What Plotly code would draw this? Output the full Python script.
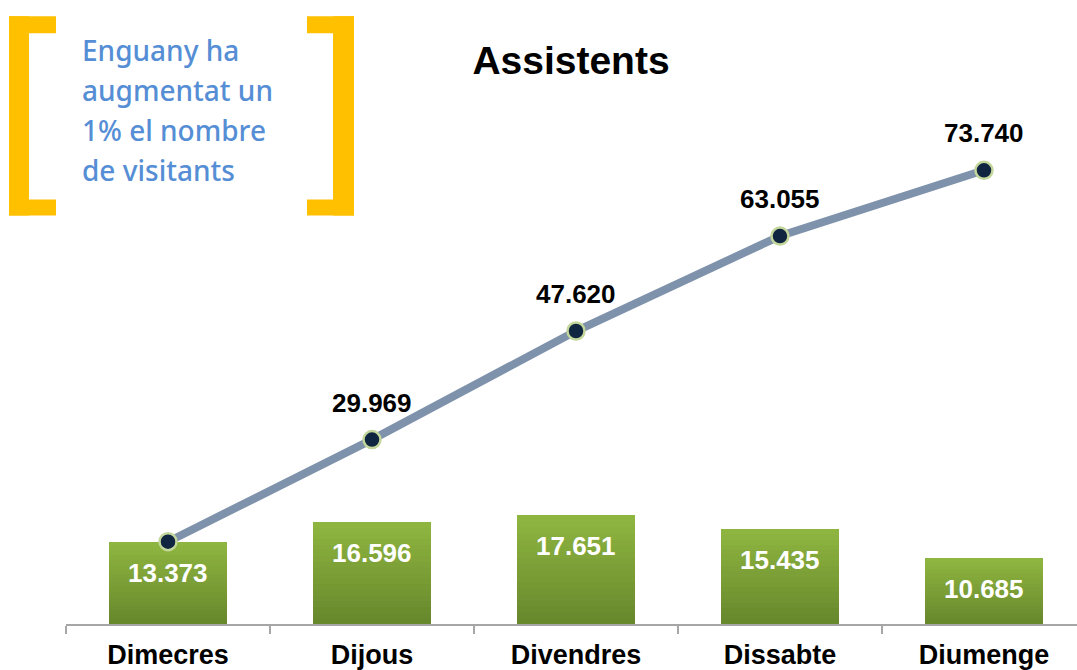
import plotly.graph_objects as go

# ---------------- data ----------------
days = ["Dimecres", "Dijous", "Divendres", "Dissabte", "Diumenge"]
daily_visitors = [13373, 16596, 17651, 15435, 10685]
cumulative_visitors = [13373, 29969, 47620, 63055, 73740]
note_lines = ["Enguany ha", "augmentat un", "1% el nombre", "de visitants"]
chart_title = "Assistents"

# ---------------- layout constants ----------------
W, H = 1077, 670
ML, MR, MT, MB = 66, 0, 101, 44
PW, PH = W - ML - MR, H - MT - MB


def fmt(v):
    return f"{v:,}".replace(",", ".")


def px_x(x):
    return (x - ML) / PW


def px_y(y):
    return (H - MB - y) / PH


fig = go.Figure()

# gradient bars built as stacked slices of each value
N = 18
bot = (104, 136, 44)
top = (142, 181, 64)
for i in range(N):
    t = i / (N - 1)
    c = tuple(round(bot[k] + (top[k] - bot[k]) * t) for k in range(3))
    fig.add_trace(go.Bar(
        x=days, y=[v / N for v in daily_visitors],
        marker=dict(color=f"rgb{c}", line=dict(width=0)),
        width=0.58, hoverinfo="skip", showlegend=False,
    ))

fig.add_trace(go.Scatter(
    x=days, y=cumulative_visitors, mode="lines+markers",
    line=dict(color="#7f92ab", width=8),
    marker=dict(size=17, color="#10253f", line=dict(color="#c3d69b", width=2.5)),
    showlegend=False, hoverinfo="skip",
))

annotations = []
for d, v in zip(days, daily_visitors):
    annotations.append(dict(
        x=d, y=v, xref="x", yref="y", text=f"<b>{fmt(v)}</b>", showarrow=False,
        yanchor="top", yshift=-14,
        font=dict(family="Liberation Sans, Arial", size=26, color="white"),
    ))
# the first point coincides with the first bar, so only later points are labelled
for d, v in list(zip(days, cumulative_visitors))[1:]:
    annotations.append(dict(
        x=d, y=v, xref="x", yref="y", text=f"<b>{fmt(v)}</b>", showarrow=False,
        yanchor="bottom", yshift=20,
        font=dict(family="Liberation Sans, Arial", size=26, color="black"),
    ))
for i, line in enumerate(note_lines):
    annotations.append(dict(
        x=px_x(80), y=px_y(50 + 40 * i), xref="paper", yref="paper",
        xanchor="left", yanchor="middle", text=line, showarrow=False,
        font=dict(family="Noto Sans", size=28, color="#558ED5", weight=500),
    ))

shapes = []
orange = "#FFC000"


def rect(x0, y0, x1, y1):
    shapes.append(dict(type="rect", xref="paper", yref="paper",
                       x0=px_x(x0), x1=px_x(x1), y0=px_y(y0), y1=px_y(y1),
                       fillcolor=orange, line=dict(width=0), layer="above"))


# left bracket
rect(9, 16, 29, 216)
rect(9, 16, 56, 33)
rect(9, 200, 56, 216)
# right bracket
rect(333, 16, 354, 216)
rect(307, 16, 354, 33)
rect(307, 200, 354, 216)

fig.update_layout(
    width=W, height=H,
    margin=dict(l=ML, r=MR, t=MT, b=MB, pad=0),
    paper_bgcolor="white", plot_bgcolor="white",
    barmode="stack", bargap=0.42,
    title=dict(text=f"<b>{chart_title}</b>", x=571 / W, xanchor="center",
               y=1 - 60 / H, yanchor="middle",
               font=dict(family="Liberation Sans, Arial", size=39, color="black")),
    xaxis=dict(type="category", range=[-0.5, 4.456], showline=True,
               linecolor="#a6a6a6", linewidth=2, ticks="outside",
               tickson="boundaries", ticklen=8, tickcolor="#a6a6a6", tickwidth=2,
               showgrid=False, zeroline=False, ticklabelstandoff=6,
               tickfont=dict(family="Liberation Sans, Arial", size=27, color="black",
                             weight="bold")),
    yaxis=dict(range=[0, 85000], visible=False, showgrid=False, zeroline=False),
    annotations=annotations, shapes=shapes,
)

fig.write_html("out.html", config={"displayModeBar": False},
               post_script="document.body.style.margin='0px';document.body.style.overflow='hidden';")
